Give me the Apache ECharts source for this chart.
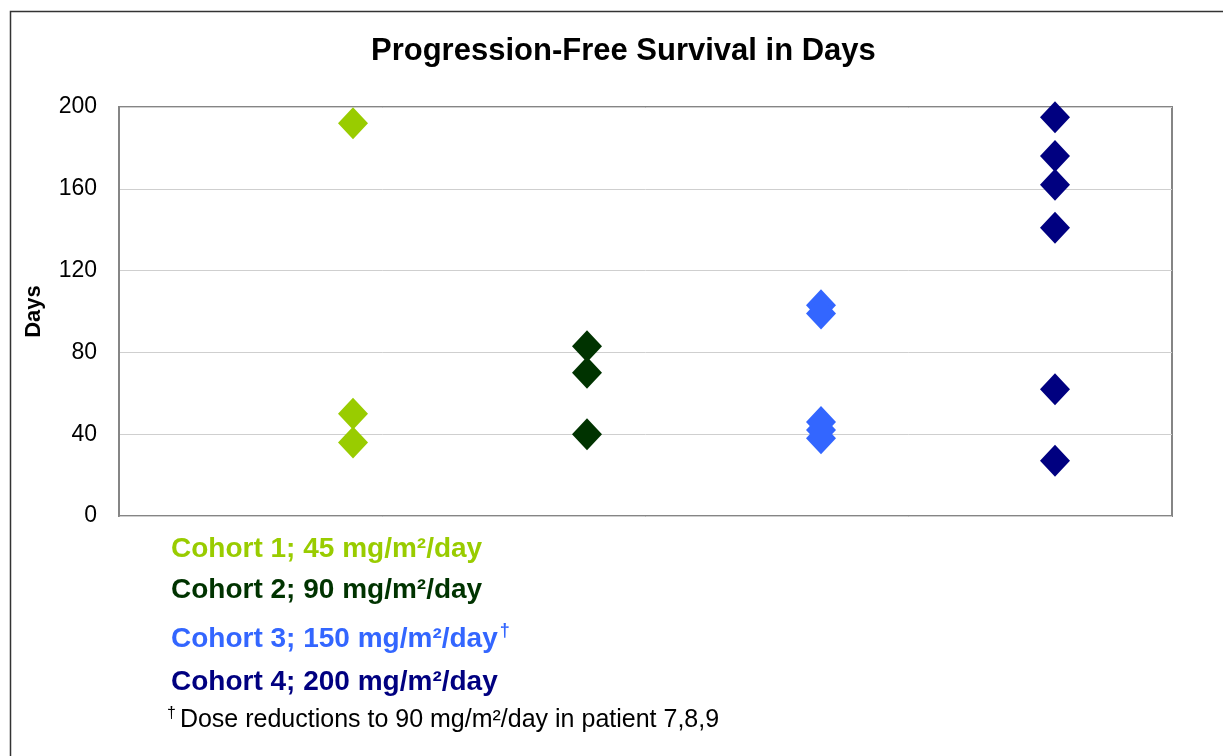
<!DOCTYPE html>
<html>
<head>
<meta charset="utf-8">
<title>Progression-Free Survival in Days</title>
<script src="https://cdn.jsdelivr.net/npm/echarts@6/dist/echarts.min.js"></script>
<style>
  html, body { margin: 0; padding: 0; background: #fff; }
  #chart { width: 1223px; height: 756px; }
</style>
</head>
<body>
<div id="chart"></div>
<script>
  // cohort labels and colours
  const cohortNames = ['Cohort 1; 45 mg/m²/day', 'Cohort 2; 90 mg/m²/day', 'Cohort 3; 150 mg/m²/day', 'Cohort 4; 200 mg/m²/day'];
  const cohortColors = ['#99cc00', '#003300', '#3366ff', '#000080'];
  // progression-free survival (days) per patient
  const cohort1Days = [192, 50, 36];
  const cohort2Days = [83, 70, 40];
  const cohort3Days = [103, 99, 46, 42, 38];
  const cohort4Days = [195, 176, 162, 141, 62, 27];
  const yMin = 0, yMax = 200, yStep = 40;
  const footnote = 'Dose reductions to 90 mg/m²/day in patient 7,8,9';

  const allDays = [cohort1Days, cohort2Days, cohort3Days, cohort4Days];
  const font = '"Liberation Sans", Arial, sans-serif';

  const chart = echarts.init(document.getElementById('chart'));

  const series = allDays.map((days, i) => ({
    name: cohortNames[i],
    type: 'scatter',
    symbol: 'diamond',
    symbolSize: [30, 32],
    itemStyle: { color: cohortColors[i], opacity: 1 },
    data: days.map(d => [i + 1, d]),
    z: 3
  }));

  // legend lines drawn as text under the plot
  const legendY = [551, 592, 638, 684];
  const legendText = cohortNames.map((name, i) => ({
    type: 'text',
    left: 171,
    top: legendY[i] - 16,
    style: {
      text: i === 2 ? name + '{sup|†}' : name,
      fill: cohortColors[i],
      font: 'bold 28px ' + font,
      rich: {
        sup: { fontSize: 18, fontWeight: 'bold', fill: cohortColors[i], verticalAlign: 'top', padding: [0, 0, 16, 2] }
      }
    }
  }));

  const option = {
    animation: false,
    textStyle: { fontFamily: font },
    title: {
      text: 'Progression-Free Survival in Days',
      left: 366,
      top: 31,
      textStyle: { fontSize: 31, fontWeight: 'bold', color: '#000', fontFamily: font }
    },
    grid: {
      left: 119,
      top: 107,
      right: 51,
      bottom: 240,
      show: true,
      borderColor: '#858585',
      borderWidth: 2
    },
    xAxis: {
      type: 'value',
      min: 0,
      max: 4.5,
      axisLine: { show: false },
      axisTick: { show: false },
      axisLabel: { show: false },
      splitLine: { show: false }
    },
    yAxis: {
      type: 'value',
      min: yMin,
      max: yMax,
      interval: yStep,
      name: 'Days',
      nameLocation: 'middle',
      nameGap: 74,
      nameRotate: 90,
      nameTextStyle: { fontSize: 22, fontWeight: 'bold', color: '#000', fontFamily: font },
      axisLine: { show: true, lineStyle: { color: '#858585', width: 2 } },
      axisTick: { show: false },
      axisLabel: { fontSize: 23, color: '#000', margin: 22, fontFamily: font },
      splitLine: { show: true, lineStyle: { color: '#cfcfcf', width: 1 } }
    },
    series: series,
    graphic: [
      {
        type: 'rect',
        shape: { x: 10.5, y: 11.5, width: 1400, height: 900 },
        style: { fill: 'none', stroke: '#333', lineWidth: 1.5 },
        silent: true
      },
      ...legendText,
      {
        type: 'text',
        left: 167,
        top: 706,
        style: {
          text: '{sup|†}' + footnote,
          fill: '#000',
          font: '25px ' + font,
          rich: {
            sup: { fontSize: 16, fill: '#000', verticalAlign: 'top', padding: [0, 4, 12, 0] }
          }
        }
      }
    ]
  };

  chart.setOption(option);
</script>
</body>
</html>
